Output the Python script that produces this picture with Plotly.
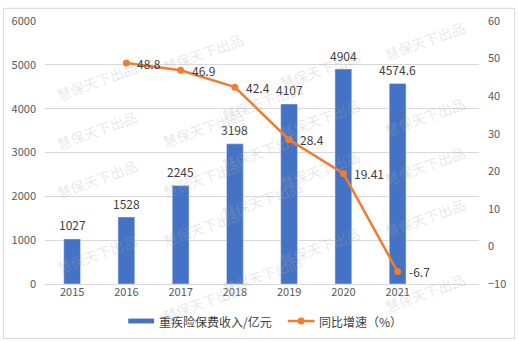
import plotly.graph_objects as go

years = ["2015", "2016", "2017", "2018", "2019", "2020", "2021"]
premium = [1027, 1528, 2245, 3198, 4107, 4904, 4574.6]
premium_labels = ["1027", "1528", "2245", "3198", "4107", "4904", "4574.6"]
growth_years = ["2016", "2017", "2018", "2019", "2020", "2021"]
growth = [48.8, 46.9, 42.4, 28.4, 19.41, -6.7]
growth_labels = ["48.8", "46.9", "42.4", "28.4", "19.41", "-6.7"]
bar_name = "重疾险保费收入/亿元"
line_name = "同比增速（%）"

W, H = 518, 341
ML, MR, MT, MB = 43, 37, 14, 57
PW = W - ML - MR
PH = H - MT - MB


def px(x):
    return (x - ML) / PW


def py(y):
    return (H - MB - y) / PH


BLUE = "#4472C4"
ORANGE = "#ED7D31"
FONT = "Noto Sans CJK SC, DejaVu Sans, sans-serif"

xi = list(range(len(years)))
gxi = [years.index(y) for y in growth_years]

fig = go.Figure()
fig.add_trace(go.Bar(x=xi, y=premium, marker_color=BLUE, width=0.31,
                     name=bar_name, yaxis="y", showlegend=False))
fig.add_trace(go.Scatter(x=gxi, y=growth, mode="lines+markers", name=line_name,
                         line=dict(color=ORANGE, width=2.5),
                         marker=dict(color=ORANGE, size=7),
                         yaxis="y2", showlegend=False))

ann = []
for i, (v, t) in enumerate(zip(premium, premium_labels)):
    ann.append(dict(x=i, y=v, xref="x", yref="y", text=t, showarrow=False,
                    yshift=14, font=dict(size=12, color="#404040", family=FONT)))
for i, v, t in zip(gxi, growth, growth_labels):
    ann.append(dict(x=i, y=v, xref="x", yref="y2", text=t, showarrow=False,
                    xanchor="left", xshift=9,
                    font=dict(size=12, color="#404040", family=FONT)))

# watermarks
wm_cols = {
    50: [49, 126, 203, 280],
    157: [20, 97, 175, 252, 330],
    262: [70, 147, 225, 302],
    366: [37, 115, 194, 273],
    472: [8, 86, 163, 243, 320],
}
for cx, ys in wm_cols.items():
    for cy in ys:
        ann.append(dict(x=px(cx), y=py(cy), xref="paper", yref="paper",
                        text="慧保天下出品", showarrow=False, textangle=-20,
                        font=dict(size=14, color="rgba(170,170,170,0.28)", family=FONT)))

# legend text
ann.append(dict(x=px(156), y=py(322), xref="paper", yref="paper", text=bar_name,
                showarrow=False, xanchor="left", yanchor="middle",
                font=dict(size=12, color="#404040", family=FONT)))
ann.append(dict(x=px(318), y=py(322), xref="paper", yref="paper", text=line_name,
                showarrow=False, xanchor="left", yanchor="middle",
                font=dict(size=12, color="#404040", family=FONT)))

shapes = [
    dict(type="rect", xref="paper", yref="paper", x0=px(1), x1=px(517), y0=py(340), y1=py(1),
         line=dict(color="#D9D9D9", width=1), fillcolor="rgba(0,0,0,0)", layer="below"),
    dict(type="rect", xref="paper", yref="paper", x0=px(127), x1=px(153), y0=py(324.5), y1=py(319.5),
         line=dict(width=0), fillcolor=BLUE),
    dict(type="line", xref="paper", yref="paper", x0=px(288), x1=px(315), y0=py(322), y1=py(322),
         line=dict(color=ORANGE, width=2.5)),
    dict(type="circle", xref="paper", yref="paper", x0=px(298), x1=px(305), y0=py(325.5), y1=py(318.5),
         line=dict(width=0), fillcolor=ORANGE),
]

fig.update_layout(
    width=W, height=H,
    margin=dict(l=ML, r=MR, t=MT, b=MB),
    paper_bgcolor="white", plot_bgcolor="white",
    font=dict(family=FONT, color="#595959", size=11),
    showlegend=False,
    xaxis=dict(range=[-0.5, 7.5], tickvals=xi, ticktext=years, showgrid=False,
               zeroline=False, showline=False, ticks="", tickfont=dict(size=11, color="#595959")),
    yaxis=dict(range=[0, 6000], tickvals=[0, 1000, 2000, 3000, 4000, 5000, 6000],
               showgrid=True, gridcolor="#D9D9D9", gridwidth=1, zeroline=True,
               zerolinecolor="#D9D9D9", zerolinewidth=1, ticks="", ticklabelstandoff=8,
               tickfont=dict(size=11, color="#595959")),
    yaxis2=dict(range=[-10, 60], tickvals=[-10, 0, 10, 20, 30, 40, 50, 60],
                overlaying="y", side="right", showgrid=False, zeroline=False, ticks="",
                ticklabelstandoff=8, tickfont=dict(size=11, color="#595959")),
    annotations=ann,
    shapes=shapes,
)

fig.write_html("out.html")
